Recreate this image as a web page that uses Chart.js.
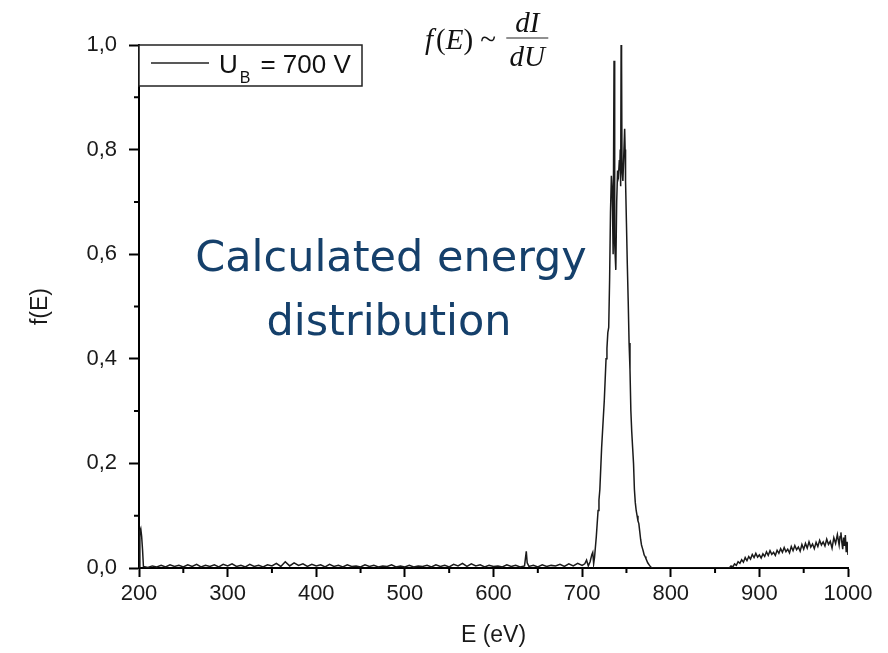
<!DOCTYPE html>
<html>
<head>
<meta charset="utf-8">
<title>f(E)</title>
<script src="https://cdn.jsdelivr.net/npm/chart.js@4.4.1/dist/chart.umd.min.js"></script>
<style>
  html, body { margin: 0; padding: 0; background: #fff; }
  canvas { display: block; }
</style>
</head>
<body>
<canvas id="spectrum" width="888" height="653"></canvas>
<script>
// Energy spectrum, U_B = 700 V
// low-energy part: edge spike at 200 eV and the flat noisy floor
const lowE = [200, 201, 202, 203, 204,
  205, 210, 215, 220, 225, 230, 235, 240, 245, 250, 255, 260, 265, 270, 275, 280, 285, 290, 295, 300,
  305, 310, 315, 320, 325, 330, 335, 340, 345, 350, 355, 360, 365, 370, 375, 380, 385, 390, 395, 400,
  405, 410, 415, 420, 425, 430, 435, 440, 445, 450, 455, 460, 465, 470, 475, 480, 485, 490, 495, 500,
  505, 510, 515, 520, 525, 530, 535, 540, 545, 550, 555, 560, 565, 570, 575, 580, 585, 590, 595, 600,
  605, 610, 615, 620, 625, 630, 635, 636, 637, 638, 640, 645, 650, 655, 660, 665, 670, 675, 680, 685,
  690, 695, 700];
const lowF = [0.002, 0.070, 0.075, 0.060, 0.035,
  0.003, 0.001, 0.004, 0.002, 0.005, 0.002, 0.006, 0.003, 0.005, 0.002, 0.006, 0.003, 0.007, 0.002, 0.005, 0.003, 0.006, 0.002, 0.007, 0.004,
  0.008, 0.003, 0.005, 0.002, 0.007, 0.003, 0.005, 0.002, 0.006, 0.004, 0.009, 0.003, 0.012, 0.004, 0.010, 0.005, 0.008, 0.003, 0.007, 0.004,
  0.006, 0.002, 0.007, 0.003, 0.005, 0.002, 0.006, 0.003, 0.004, 0.002, 0.006, 0.003, 0.005, 0.002, 0.004, 0.003, 0.006, 0.002, 0.004, 0.002,
  0.005, 0.002, 0.004, 0.003, 0.005, 0.002, 0.006, 0.003, 0.005, 0.002, 0.007, 0.004, 0.009, 0.003, 0.008, 0.004, 0.006, 0.002, 0.005, 0.003,
  0.004, 0.002, 0.006, 0.003, 0.005, 0.002, 0.004, 0.018, 0.032, 0.010, 0.003, 0.005, 0.002, 0.006, 0.003, 0.005, 0.004, 0.007, 0.003, 0.008,
  0.004, 0.009, 0.005];

// main peak around 740 eV
const peakE = [703, 705, 707, 709, 711, 712, 713, 714, 716, 718, 719, 720, 721, 722, 723, 724, 725, 726,
  727, 728, 729, 730, 731, 732, 733, 734, 735, 736, 736.5, 737, 738, 739, 740, 741, 742, 742.5, 743, 743.5,
  744, 744.5, 745, 746, 747, 748, 748.5, 749, 750, 751, 752, 753, 754, 755, 756, 757, 758, 759, 760,
  761, 762, 763, 764, 765, 766, 767, 768, 769, 770, 771, 772, 774, 776, 778, 780];
const peakF = [0.008, 0.015, 0.004, 0.012, 0.026, 0.030, 0.008, 0.020, 0.060, 0.110, 0.130, 0.150, 0.190, 0.230, 0.260, 0.290, 0.320, 0.360,
  0.400, 0.420, 0.450, 0.460, 0.550, 0.680, 0.750, 0.720, 0.600, 0.970, 0.950, 0.620, 0.570, 0.700, 0.760, 0.750, 0.780, 0.760, 0.800, 0.730,
  1.000, 0.970, 0.760, 0.740, 0.790, 0.840, 0.800, 0.740, 0.660, 0.580, 0.510, 0.430, 0.380, 0.300, 0.260, 0.230, 0.200, 0.150, 0.125,
  0.110, 0.100, 0.090, 0.085, 0.070, 0.055, 0.044, 0.038, 0.032, 0.025, 0.022, 0.018, 0.010, 0.005, 0.001, 0.000];

// gap and slowly rising tail up to 1000 eV
const tailE = [820, 866, 868, 870, 872, 874, 876, 878, 880, 882, 884, 886, 888, 890, 892, 894, 896, 898, 900,
  902, 904, 906, 908, 910, 912, 914, 916, 918, 920, 922, 924, 926, 928, 930, 932, 934, 936, 938, 940,
  942, 944, 946, 948, 950, 952, 954, 956, 958, 960, 962, 964, 966, 968, 970, 972, 974, 976, 978, 980,
  982, 984, 986, 988, 990, 991, 992, 993, 994, 995, 996, 997, 998, 999, 1000];
const tailF = [0.000, 0.000, 0.004, 0.002, 0.008, 0.005, 0.012, 0.009, 0.016, 0.011, 0.020, 0.014, 0.022, 0.017, 0.026, 0.020, 0.028, 0.021, 0.025,
  0.019, 0.027, 0.022, 0.031, 0.024, 0.033, 0.026, 0.030, 0.024, 0.034, 0.028, 0.037, 0.030, 0.039, 0.031, 0.036, 0.029, 0.041, 0.033, 0.043,
  0.035, 0.040, 0.032, 0.045, 0.036, 0.047, 0.038, 0.050, 0.040, 0.046, 0.037, 0.049, 0.041, 0.053, 0.044, 0.050, 0.042, 0.055, 0.045, 0.051,
  0.038, 0.058, 0.047, 0.064, 0.044, 0.060, 0.068, 0.050, 0.036, 0.058, 0.042, 0.063, 0.030, 0.050, 0.025];

const xTicks = [200, 300, 400, 500, 600, 700, 800, 900, 1000];
const yTicks = [0, 0.2, 0.4, 0.6, 0.8, 1.0];

const allE = lowE.concat(peakE, tailE);
const allF = lowF.concat(peakF, tailF);
const points = allE.map((e, i) => ({ x: e, y: allF[i] }));

const tickFont = { family: 'Liberation Sans, Arial, sans-serif', size: 22 };
const titleFont = { family: 'Liberation Sans, Arial, sans-serif', size: 23 };

// minor ticks, legend box and the text notes
const extras = {
  id: 'extras',
  afterDraw(chart) {
    const ctx = chart.ctx;
    const ca = chart.chartArea;
    const xs = chart.scales.x, ys = chart.scales.y;
    ctx.save();
    ctx.strokeStyle = '#000';
    ctx.lineWidth = 2;
    ctx.beginPath();
    for (let v = 250; v < 1000; v += 100) {
      const px = xs.getPixelForValue(v);
      ctx.moveTo(px, ca.bottom);
      ctx.lineTo(px, ca.bottom + 5);
    }
    for (let v = 0.1; v < 1; v += 0.2) {
      const py = ys.getPixelForValue(v);
      ctx.moveTo(ca.left, py);
      ctx.lineTo(ca.left - 5, py);
    }
    ctx.stroke();

    // legend box
    const bx = ca.left, by = ca.top;
    ctx.fillStyle = '#fff';
    ctx.fillRect(bx, by, 223, 41);
    ctx.lineWidth = 1.5;
    ctx.strokeStyle = '#222';
    ctx.strokeRect(bx, by, 223, 41);
    ctx.lineWidth = 1.4;
    ctx.beginPath();
    ctx.moveTo(bx + 12, by + 18);
    ctx.lineTo(bx + 70, by + 18);
    ctx.stroke();
    ctx.fillStyle = '#111';
    ctx.textBaseline = 'alphabetic';
    ctx.textAlign = 'left';
    ctx.font = '26px Liberation Sans, Arial, sans-serif';
    let tx = bx + 80;
    ctx.fillText('U', tx, by + 28);
    tx += ctx.measureText('U').width + 2;
    ctx.font = '16px Liberation Sans, Arial, sans-serif';
    ctx.fillText('B', tx, by + 38);
    tx += ctx.measureText('B').width + 10;
    ctx.font = '26px Liberation Sans, Arial, sans-serif';
    ctx.fillText('= 700 V', tx, by + 28);

    // f(E) ~ dI/dU
    const it = 'italic 29px Liberation Serif, Times New Roman, serif';
    const up = '29px Liberation Serif, Times New Roman, serif';
    const parts = [['f', it], ['(', up], ['E', it], [')', up], [' ~ ', up]];
    let fx = 425;
    parts.forEach(([s, f]) => {
      ctx.font = f;
      ctx.fillText(s, fx, 49);
      fx += ctx.measureText(s).width + (s === 'f' ? 3 : 0);
    });
    ctx.lineWidth = 1.2;
    ctx.beginPath();
    ctx.moveTo(fx + 3, 38);
    ctx.lineTo(fx + 45, 38);
    ctx.stroke();
    ctx.font = it;
    ctx.textAlign = 'center';
    ctx.fillText('dI', fx + 24, 32);
    ctx.fillText('dU', fx + 24, 66);

    // note inside the plot
    ctx.fillStyle = '#15406b';
    ctx.font = '43px DejaVu Sans, Verdana, sans-serif';
    ctx.fillText('Calculated energy', 391, 271);
    ctx.fillText('distribution', 389, 335);
    ctx.restore();
  }
};

new Chart(document.getElementById('spectrum').getContext('2d'), {
  type: 'line',
  data: {
    datasets: [{
      label: 'U_B = 700 V',
      data: points,
      borderColor: '#1a1a1a',
      borderWidth: 1.5,
      pointRadius: 0,
      tension: 0,
      fill: false
    }]
  },
  options: {
    responsive: false,
    animation: false,
    devicePixelRatio: 1,
    layout: { padding: { top: 45, right: 40, left: 0, bottom: 0 } },
    plugins: {
      legend: { display: false },
      tooltip: { enabled: false }
    },
    scales: {
      x: {
        type: 'linear',
        min: 200,
        max: 1000,
        afterFit: s => { s.height = 85; },
        afterBuildTicks: s => { s.ticks = xTicks.map(v => ({ value: v })); },
        ticks: { font: tickFont, color: '#1a1a1a', padding: 4, maxRotation: 0, callback: v => String(v) },
        grid: { drawOnChartArea: false, tickLength: 9, tickWidth: 2, tickColor: '#000' },
        border: { display: true, color: '#000', width: 2 },
        title: { display: true, text: 'E (eV)', font: titleFont, color: '#1a1a1a', padding: { top: 0, bottom: 4 } }
      },
      y: {
        min: 0,
        max: 1,
        afterFit: s => { s.width = 139; },
        afterBuildTicks: s => { s.ticks = yTicks.map(v => ({ value: v })); },
        ticks: {
          font: tickFont,
          color: '#1a1a1a',
          padding: 12,
          callback: v => v.toFixed(1).replace('.', ',')
        },
        grid: { drawOnChartArea: false, tickLength: 10, tickWidth: 2, tickColor: '#000' },
        border: { display: true, color: '#000', width: 2 },
        title: { display: true, text: 'f(E)', font: titleFont, color: '#1a1a1a', padding: { top: 27, bottom: 0 } }
      }
    }
  },
  plugins: [extras]
});
</script>
</body>
</html>
